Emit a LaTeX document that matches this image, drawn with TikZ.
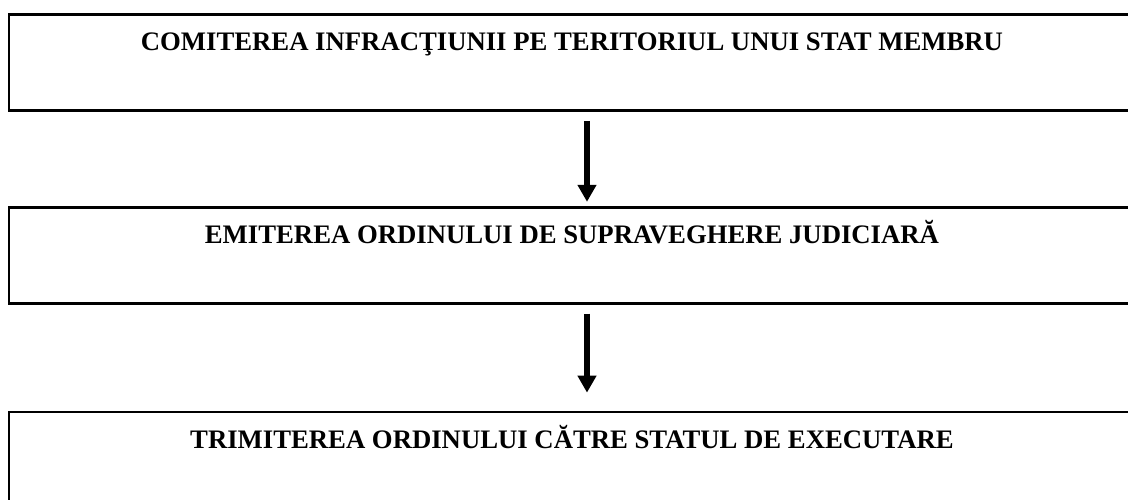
\documentclass[tikz,border=0pt]{standalone}
\usepackage{fontspec}
\setmainfont{Liberation Serif}
\usepackage{tikz}
\usetikzlibrary{positioning}
\usetikzlibrary{arrows.meta}

\tikzset{
  stage/.style={draw, line width=.8pt, inner sep=0pt,
    minimum width=11.26cm, text height=.36cm, text depth=.60cm,
    font=\fontsize{7.6}{9}\selectfont\bfseries},
  flow/.style={line width=1.7pt, -{Triangle[width=.18cm,length=.17cm]}}
}

\begin{document}
\begin{tikzpicture}
  \useasboundingbox (0,0) rectangle (11.28,-4.99);
  \node (comit) [stage,anchor=north] at (5.72,-.13)
    {COMITEREA INFRACŢIUNII PE TERITORIUL UNUI STAT MEMBRU};
  \node (emit) [stage,below=.94cm of comit]
    {EMITEREA ORDINULUI DE SUPRAVEGHERE JUDICIARĂ};
  \node (trim) [stage,below=1.06cm of emit]
    {TRIMITEREA ORDINULUI CĂTRE STATUL DE EXECUTARE};

  \draw[flow,shorten <=.09cm,shorten >=.04cm]
    ([xshift=.15cm]comit.south) -- ([xshift=.15cm]emit.north);
  \draw[flow,shorten <=.09cm,shorten >=.18cm]
    ([xshift=.15cm]emit.south) -- ([xshift=.15cm]trim.north);
\end{tikzpicture}
\end{document}
